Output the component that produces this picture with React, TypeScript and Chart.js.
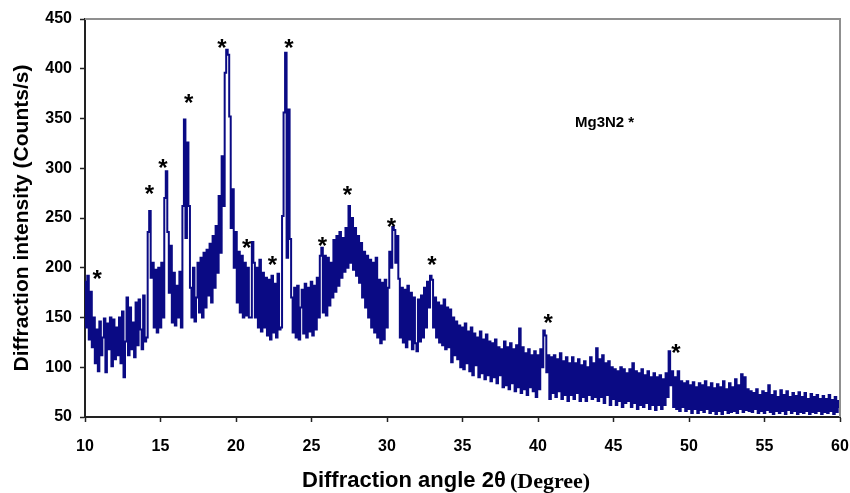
import { useEffect, useRef } from "react";
import { Chart, registerables } from "chart.js";
Chart.register(...registerables);

// Sampling grid of the scan (degrees 2θ)
const ANGLE_START = 10;
const ANGLE_STEP = 0.1;

// Diffraction intensity (Counts/s), 0.1° apart
const counts10to15 = [
  186, 140, 192, 128, 176, 120, 150, 104, 138, 96,
  146, 112, 130, 149, 95, 144, 118, 150, 101, 148,
  108, 140, 112, 150, 104, 156, 90, 126, 170, 112,
  160, 118, 145, 110, 165, 122, 168, 138, 118, 172,
  126, 130, 236, 257, 190, 205, 140, 198, 135, 200,
];
const counts15to20 = [
  140, 205, 150, 270, 297, 236, 175, 222, 145, 195,
  142, 182, 150, 196, 140, 262, 349, 230, 326, 262,
  180, 150, 200, 146, 170, 205, 155, 210, 150, 215,
  160, 218, 172, 224, 165, 232, 180, 242, 195, 272,
  215, 312, 262, 396, 419, 414, 352, 240, 279, 200,
];
const counts20to25 = [
  236, 165, 216, 155, 212, 150, 205, 152, 200, 150,
  150, 226, 205, 150, 200, 140, 208, 136, 195, 140,
  190, 132, 188, 128, 192, 135, 184, 130, 194, 138,
  140, 252, 356, 416, 210, 359, 229, 170, 135, 180,
  130, 182, 128, 160, 178, 134, 184, 130, 180, 136,
];
const counts25to30 = [
  186, 132, 182, 138, 190, 150, 212, 220, 155, 212,
  152, 210, 162, 205, 170, 228, 176, 232, 182, 236,
  190, 230, 196, 240, 200, 262, 205, 250, 198, 240,
  192, 232, 185, 225, 170, 216, 160, 212, 150, 208,
  140, 205, 135, 210, 130, 188, 124, 185, 128, 188,
];
const counts30to35 = [
  140, 180, 216, 200, 241, 238, 205, 232, 189, 130,
  180, 125, 178, 120, 182, 128, 175, 118, 170, 124,
  116, 168, 126, 172, 130, 180, 140, 186, 160, 192,
  188, 140, 170, 130, 165, 125, 162, 122, 168, 118,
  160, 120, 158, 105, 150, 112, 146, 108, 142, 100,
];
const counts35to40 = [
  140, 98, 144, 104, 136, 96, 140, 92, 134, 102,
  130, 90, 136, 94, 128, 88, 133, 92, 126, 86,
  124, 90, 128, 84, 120, 92, 118, 80, 126, 82,
  120, 78, 124, 84, 118, 76, 122, 80, 139, 74,
  120, 78, 114, 72, 118, 80, 112, 76, 116, 70,
];
const counts40to45 = [
  112, 78, 118, 100, 137, 132, 95, 112, 68, 110,
  74, 112, 70, 108, 76, 114, 68, 106, 72, 110,
  66, 104, 72, 110, 68, 104, 74, 108, 66, 102,
  70, 106, 66, 100, 72, 110, 68, 104, 70, 119,
  66, 108, 70, 112, 64, 104, 72, 106, 62, 100,
];
const counts45to50 = [
  68, 98, 62, 96, 66, 100, 60, 98, 64, 94,
  66, 98, 60, 104, 64, 96, 58, 94, 62, 98,
  60, 92, 64, 96, 58, 90, 62, 94, 57, 90,
  62, 92, 58, 88, 62, 94, 70, 116, 82, 96,
  60, 90, 58, 96, 56, 86, 60, 84, 56, 86,
];
const counts50to55 = [
  58, 82, 54, 85, 58, 80, 54, 84, 57, 82,
  55, 86, 58, 80, 54, 84, 56, 79, 53, 83,
  56, 80, 53, 86, 57, 78, 54, 84, 55, 80,
  56, 88, 54, 82, 58, 93, 55, 90, 57, 78,
  56, 76, 55, 74, 58, 78, 54, 72, 56, 76,
];
const counts55to60 = [
  54, 74, 57, 82, 55, 72, 53, 76, 56, 70,
  54, 77, 56, 72, 53, 76, 57, 70, 54, 74,
  56, 71, 53, 75, 55, 70, 54, 74, 56, 68,
  53, 73, 55, 70, 54, 72, 56, 68, 53, 71,
  55, 68, 54, 72, 56, 67, 53, 70, 55, 66,
  60,
];

// Mg3N2 reflection markers (*): angle and height of the marker
const starAngles = [10.8, 14.27, 15.16, 16.86, 19.07, 20.7, 22.41, 23.51, 25.72, 27.38, 30.29, 32.98, 40.67, 49.13];
const starCounts = [195, 280, 306, 372, 427, 226, 209, 427, 228, 279, 247, 209, 151, 120];

// Phase label
const phaseLabel = "Mg3N2 *";
const phaseLabelAngle = 42.45;
const phaseLabelCounts = 346;

// Axes
const X_MIN = 10, X_MAX = 60, X_STEP = 5;
const Y_MIN = 50, Y_MAX = 450, Y_STEP = 50;
const yTitle = "Diffraction intensity (Counts/s)";
const xTitleSans = "Diffraction angle 2\u03b8";
const xTitleSerif = "(Degree)";

export default function App() {
  const ref = useRef<HTMLCanvasElement>(null);
  useEffect(() => {
    document.body.style.margin = "0";
    const counts = [
      ...counts10to15, ...counts15to20, ...counts20to25, ...counts25to30, ...counts30to35,
      ...counts35to40, ...counts40to45, ...counts45to50, ...counts50to55, ...counts55to60,
    ];
    const points = counts.map((c, i) => ({ x: +(ANGLE_START + i * ANGLE_STEP).toFixed(1), y: c }));

    const overlay = {
      id: "overlay",
      afterDraw(chart: any) {
        const { ctx, chartArea, scales } = chart;
        const xs = scales.x, ys = scales.y;
        ctx.save();
        // top and right frame
        ctx.strokeStyle = "#8f8f8f";
        ctx.lineWidth = 2;
        ctx.beginPath();
        ctx.moveTo(chartArea.left, chartArea.top);
        ctx.lineTo(chartArea.right, chartArea.top);
        ctx.lineTo(chartArea.right, chartArea.bottom);
        ctx.stroke();
        // asterisks
        ctx.fillStyle = "#000";
        ctx.font = 'bold 24px "Liberation Sans", Arial, sans-serif';
        ctx.textAlign = "center";
        ctx.textBaseline = "alphabetic";
        for (let i = 0; i < starAngles.length; i++) {
          const px = xs.getPixelForValue(starAngles[i]);
          const py = ys.getPixelForValue(starCounts[i]);
          ctx.fillText("*", px, py + 14);
        }
        // phase label
        ctx.font = 'bold 15px "Liberation Sans", Arial, sans-serif';
        ctx.textAlign = "left";
        ctx.textBaseline = "middle";
        ctx.fillText(phaseLabel, xs.getPixelForValue(phaseLabelAngle), ys.getPixelForValue(phaseLabelCounts));
        // x title
        ctx.font = 'bold 22px "Liberation Sans", Arial, sans-serif';
        ctx.textAlign = "left";
        ctx.textBaseline = "middle";
        const tx = 302, ty = 481;
        ctx.fillText(xTitleSans, tx, ty);
        const w = ctx.measureText(xTitleSans + " ").width;
        ctx.font = 'bold 22px "Liberation Serif", "Times New Roman", serif';
        ctx.fillText(xTitleSerif, tx + w - 2, ty + 1);
        ctx.restore();
      },
    };

    const chart = new Chart(ref.current as HTMLCanvasElement, {
      type: "line",
      data: {
        datasets: [
          {
            data: points,
            borderColor: "#0a0a84",
            borderWidth: 2,
            pointRadius: 0,
            tension: 0,
            stepped: "middle",
            fill: false,
          },
        ],
      },
      options: {
        animation: false,
        responsive: false,
        devicePixelRatio: 1,
        layout: { padding: { left: 0, top: 19, right: 10, bottom: 0 } },
        plugins: { legend: { display: false }, tooltip: { enabled: false } },
        scales: {
          x: {
            type: "linear",
            min: X_MIN,
            max: X_MAX,
            afterFit: (s: any) => { s.height = 76; s.paddingRight = 0; s.paddingLeft = 0; },
            ticks: {
              stepSize: X_STEP,
              color: "#000",
              padding: 15,
              font: { family: '"Liberation Sans", Arial, sans-serif', size: 16, weight: "bold" },
            },
            grid: { drawOnChartArea: false, drawTicks: true, tickLength: 5, tickColor: "#222", tickWidth: 1.5 },
            border: { display: true, color: "#222", width: 2 },
          },
          y: {
            type: "linear",
            min: Y_MIN,
            max: Y_MAX,
            afterFit: (s: any) => { s.width = 85; s.paddingTop = 0; s.paddingBottom = 0; },
            ticks: {
              stepSize: Y_STEP,
              color: "#000",
              padding: 8,
              font: { family: '"Liberation Sans", Arial, sans-serif', size: 16, weight: "bold" },
            },
            grid: { drawOnChartArea: false, drawTicks: true, tickLength: 5, tickColor: "#222", tickWidth: 1.5 },
            border: { display: true, color: "#222", width: 2 },
            title: {
              display: true,
              text: yTitle,
              color: "#000",
              padding: { top: 10, bottom: 0 },
              font: { family: '"Liberation Sans", Arial, sans-serif', size: 21, weight: "bold" },
            },
          },
        },
      },
      plugins: [overlay],
    });
    return () => chart.destroy();
  }, []);
  return <canvas ref={ref} width={850} height={493} style={{ display: "block" }} />;
}
